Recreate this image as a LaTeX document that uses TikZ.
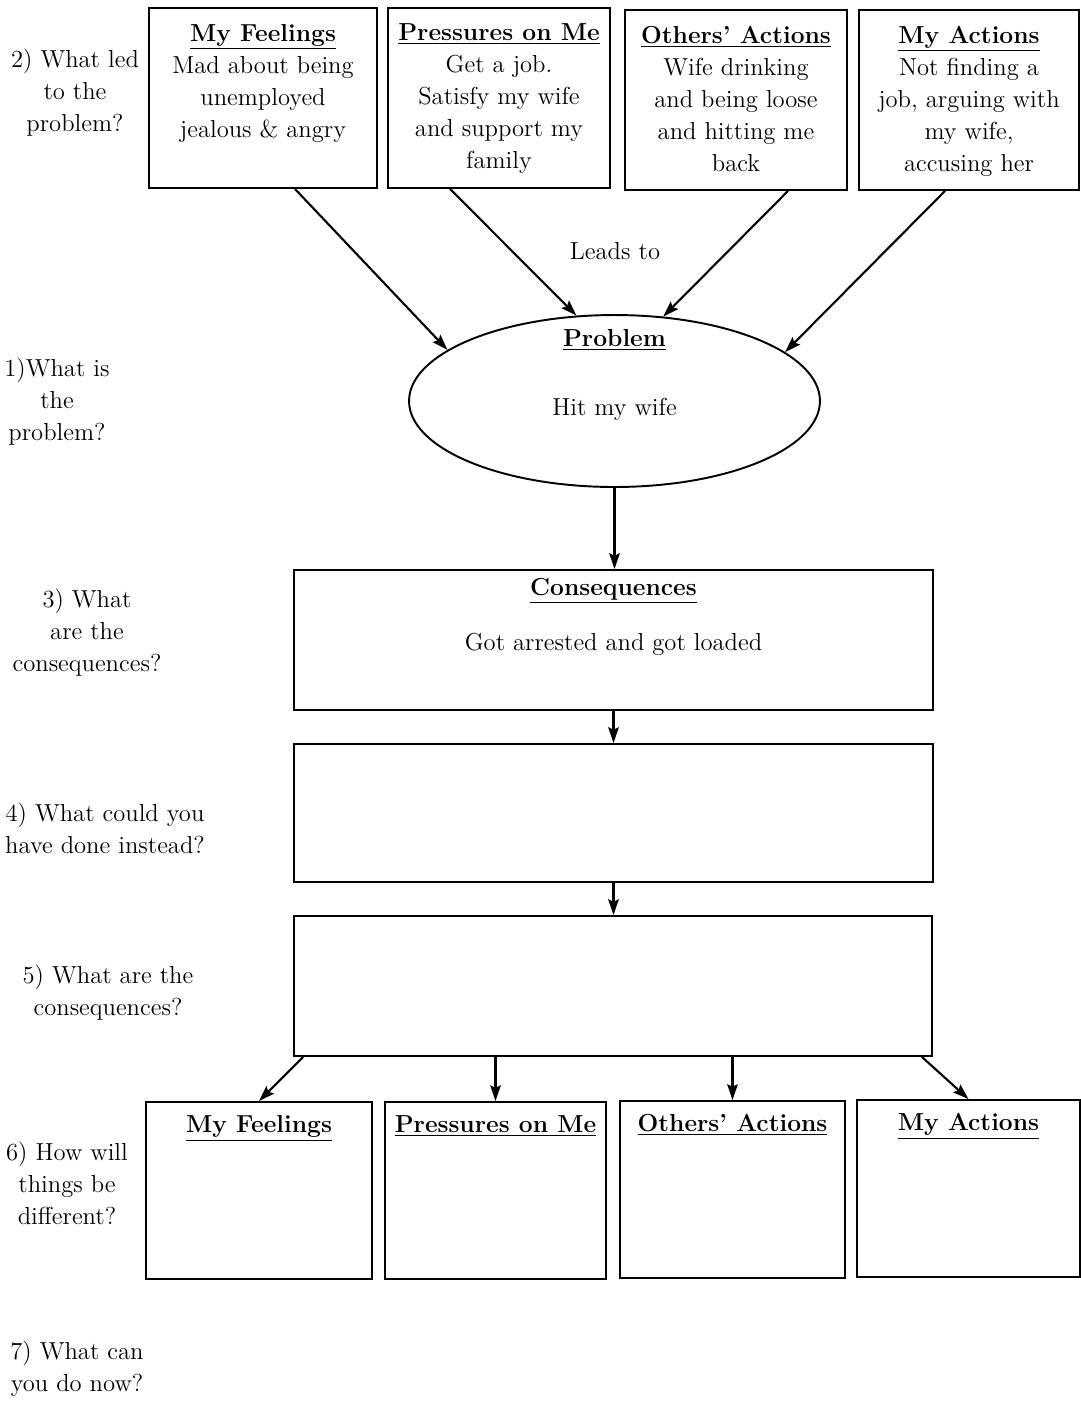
\documentclass[tikz,border=0pt]{standalone}
\usepackage{fontspec}
\usetikzlibrary{shapes.geometric}
\usetikzlibrary{arrows.meta}
\usetikzlibrary{positioning}
\tikzset{catbox/.style={draw, line width=1.1pt, inner sep=0pt},
	boxtext/.style={align=center, inner sep=0pt, anchor=north},
	qlabel/.style={align=center, inner sep=0pt},
	flow/.style={line width=1.2pt, -{Stealth[length=9pt,width=6pt,inset=1.5pt]}}}
\newcommand{\hd}[1]{\underline{\textbf{#1}}}

\begin{document}
\begin{tikzpicture}[x=0.02cm, y=-0.02cm, font=\fontsize{14}{18.2}\selectfont]
				\useasboundingbox (0,0) rectangle (1080,1401);
				% what led to it
				\node (F)[catbox, minimum width=4.56cm, minimum height=3.6cm] at (263,98){};
				\node (P)[catbox, minimum width=4.44cm, minimum height=3.6cm] at (499,98){};
				\node (O)[catbox, minimum width=4.44cm, minimum height=3.6cm] at (736,100){};
				\node (A)[catbox, minimum width=4.4cm, minimum height=3.6cm] at (969,100){};
				\node (Ft)[boxtext, below=9.5pt of F.north]{\hd{My Feelings}\\Mad about being\\unemployed\\jealous \& angry};
				\node (Pt)[boxtext, below=9.5pt of P.north]{\hd{Pressures on Me}\\Get a job.\\Satisfy my wife\\and support my\\family};
				\node (Ot)[boxtext, below=9.5pt of O.north]{\hd{Others' Actions}\\Wife drinking\\and being loose\\and hitting me\\back};
				\node (At)[boxtext, below=9.5pt of A.north]{\hd{My Actions}\\Not finding a\\job, arguing with\\my wife,\\accusing her};
				%
				\node (E)[ellipse, draw, line width=1.1pt, inner sep=0pt, minimum width=8.22cm, minimum height=3.44cm] at (614.5,401){};
				\node (Et)[boxtext, below=8.5pt of E.north]{\hd{Problem}\\[21pt]Hit my wife};
				\node (L) at (615,251){Leads to};
				\draw[flow] ([xshift=0.64cm]F.south) -- (E.163);
				\draw[flow] ([xshift=-0.98cm]P.south) -- (E.114);
				\draw[flow] ([xshift=1.04cm]O.south) -- (E.60);
				\draw[flow] ([xshift=-0.48cm]A.south) -- (E.16);
				%
				\node (C)[catbox, minimum width=12.78cm, minimum height=2.8cm] at (613.5,640){};
				\node (Ct)[boxtext, below=5pt of C.north]{\hd{Consequences}\\[13pt]Got arrested and got loaded};
				\node (D)[catbox, minimum width=12.78cm, minimum height=2.76cm] at (613.5,813){};
				\node (R)[catbox, minimum width=12.76cm, minimum height=2.8cm] at (613,986){};
				\draw[flow] (E.south) -- (E.south |- C.north);
				\draw[flow] (C.south) -- (D.north);
				\draw[flow] (D.south) -- (D.south |- R.north);
				%
				\node (F2)[catbox, minimum width=4.52cm, minimum height=3.54cm] at (259,1190.5){};
				\node (P2)[catbox, minimum width=4.42cm, minimum height=3.54cm] at (495.5,1190.5){};
				\node (O2)[catbox, minimum width=4.5cm, minimum height=3.54cm] at (732.5,1189.5){};
				\node (A2)[catbox, minimum width=4.46cm, minimum height=3.54cm] at (968.5,1188.5){};
				\node (F2t)[boxtext, below=8pt of F2.north]{\hd{My Feelings}};
				\node (P2t)[boxtext, below=8pt of P2.north]{\hd{Pressures on Me}};
				\node (O2t)[boxtext, below=8pt of O2.north]{\hd{Others' Actions}};
				\node (A2t)[boxtext, below=8pt of A2.north]{\hd{My Actions}};
				\draw[flow] ([xshift=-6.2cm]R.south) -- (F2.north);
				\draw[flow] (P2.north |- R.south) -- (P2.north);
				\draw[flow] (O2.north |- R.south) -- (O2.north);
				\draw[flow] ([xshift=6.18cm]R.south) -- (A2.north);
				%
				\node (q2)[qlabel] at (75,93){2) What led\\to the\\problem?};
				\node (q1)[qlabel] at (57,402){1)What is\\the\\problem?};
				\node (q3)[qlabel] at (87,633){3) What\\are the\\consequences?};
				\node (q4)[qlabel] at (105,828){4) What could you\\have done instead?};
				\node (q5)[qlabel] at (108,993){5) What are the\\consequences?};
				\node (q6)[qlabel] at (67,1183){6) How will\\things be\\different?};
				\node (q7)[qlabel] at (77,1369){7) What can\\you do now?};
			\end{tikzpicture}
\end{document}
